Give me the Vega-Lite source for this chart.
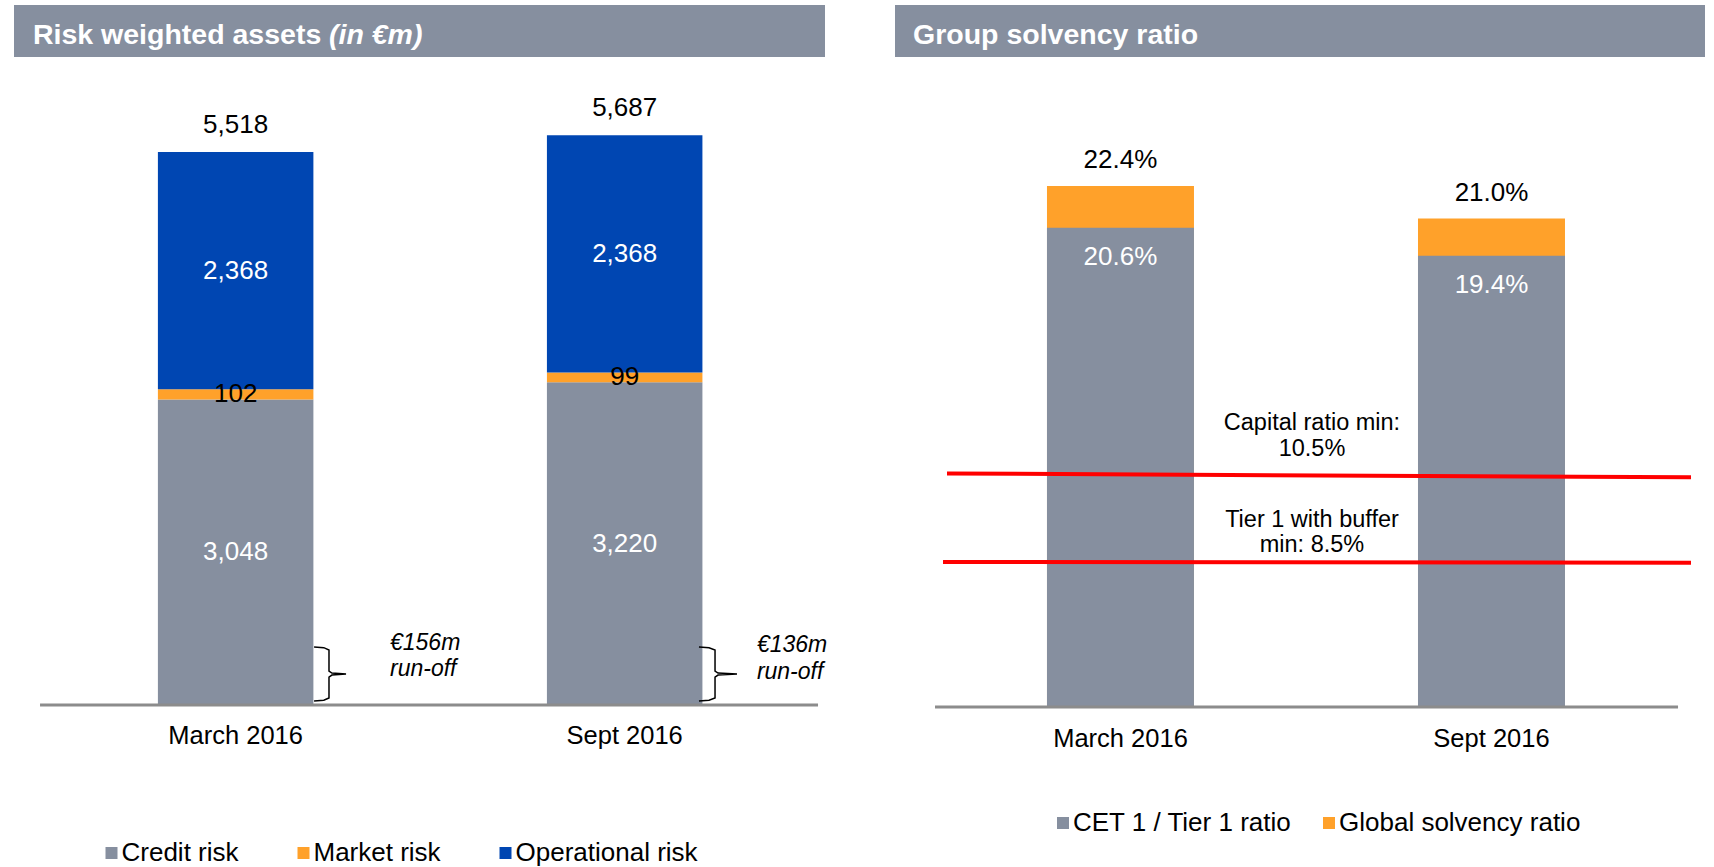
{
  "$schema": "https://vega.github.io/schema/vega-lite/v6.json",
  "padding": {"left": 14, "top": 5, "right": 0, "bottom": 0},
  "autosize": {"type": "pad"},
  "spacing": 70,
  "bounds": "flush",
  "config": {"view": {"stroke": null}, "font": "Liberation Sans", "text": {"font": "Liberation Sans"}},
  "datasets": {
    "rwa": [
      {"period": "March 2016", "risk": "Credit risk", "value": 3048, "order": 1},
      {"period": "March 2016", "risk": "Market risk", "value": 102, "order": 2},
      {"period": "March 2016", "risk": "Operational risk", "value": 2368, "order": 3},
      {"period": "Sept 2016", "risk": "Credit risk", "value": 3220, "order": 1},
      {"period": "Sept 2016", "risk": "Market risk", "value": 99, "order": 2},
      {"period": "Sept 2016", "risk": "Operational risk", "value": 2368, "order": 3}
    ],
    "solv": [
      {"period": "March 2016", "measure": "Global solvency ratio", "ratio": 0.224},
      {"period": "Sept 2016", "measure": "Global solvency ratio", "ratio": 0.210},
      {"period": "March 2016", "measure": "CET 1 / Tier 1 ratio", "ratio": 0.206},
      {"period": "Sept 2016", "measure": "CET 1 / Tier 1 ratio", "ratio": 0.194}
    ]
  },
  "hconcat": [
    {
      "width": 811,
      "height": 700,
      "layer": [
        {
          "data": {"name": "rwa"},
          "encoding": {
            "x": {
              "field": "period", "type": "nominal", "sort": ["March 2016", "Sept 2016"],
              "scale": {"paddingInner": 0.6003, "paddingOuter": 0.3425, "align": 0.54},
              "axis": {"title": null, "domain": false, "ticks": false, "tickSize": 0, "labelFontSize": 25.5, "labelFont": "Liberation Sans", "labelColor": "#000000", "labelPadding": 18.5, "labelAngle": 0}
            }
          },
          "layer": [
            {
              "mark": {"type": "bar"},
              "encoding": {
                "y": {"field": "value", "type": "quantitative", "stack": "zero", "scale": {"domain": [0, 6986], "nice": false}, "axis": null},
                "order": {"field": "order", "type": "quantitative"},
                "color": {
                  "field": "risk", "type": "nominal",
                  "scale": {"domain": ["Credit risk", "Market risk", "Operational risk"], "range": ["#868f9f", "#ffa12a", "#0046b2"]},
                  "legend": {"orient": "none", "legendX": 84.5, "legendY": 835, "direction": "horizontal", "title": null, "symbolType": "square", "symbolSize": 144, "symbolStrokeWidth": 0, "symbolOpacity": 1, "labelFontSize": 26, "labelFont": "Liberation Sans", "labelColor": "#000000", "columnPadding": 51, "labelOffset": -3, "padding": 0, "labelLimit": 400}
                }
              }
            },
            {
              "mark": {"type": "text", "fontSize": 26, "baseline": "middle", "align": "center"},
              "encoding": {
                "y": {"field": "value", "type": "quantitative", "stack": "zero", "bandPosition": 0.5, "scale": {"domain": [0, 6986], "nice": false}, "axis": null},
                "order": {"field": "order", "type": "quantitative"},
                "text": {"field": "value", "type": "quantitative", "format": ","},
                "color": {"condition": {"test": "datum.risk === 'Market risk'", "value": "#000000"}, "value": "#ffffff"}
              }
            },
            {
              "transform": [{"aggregate": [{"op": "sum", "field": "value", "as": "total"}], "groupby": ["period"]}],
              "mark": {"type": "text", "fontSize": 26, "baseline": "alphabetic", "align": "center", "dy": -19, "color": "#000000"},
              "encoding": {
                "y": {"field": "total", "type": "quantitative", "scale": {"domain": [0, 6986], "nice": false}, "axis": null},
                "text": {"field": "total", "type": "quantitative", "format": ","}
              }
            }
          ]
        },
        {
          "layer": [
            {
              "data": {"values": [{"u1": 0, "u2": 100, "v1": 6467, "v2": 6986}]},
              "mark": {"type": "rect", "color": "#868f9f"},
              "encoding": {
                "x": {"field": "u1", "type": "quantitative", "scale": {"domain": [0, 100], "nice": false, "zero": false}, "axis": null},
                "x2": {"field": "u2"},
                "y": {"field": "v1", "type": "quantitative", "scale": {"domain": [0, 6986], "nice": false}, "axis": null},
                "y2": {"field": "v2"}
              }
            },
            {
              "data": {"values": [{"u": 2.34, "v": 6597, "label": "Risk weighted assets"}]},
              "mark": {"type": "text", "fontSize": 28.5, "fontWeight": "bold", "color": "#ffffff", "align": "left", "baseline": "alphabetic"},
              "encoding": {
                "x": {"field": "u", "type": "quantitative", "scale": {"domain": [0, 100], "nice": false, "zero": false}, "axis": null},
                "y": {"field": "v", "type": "quantitative", "scale": {"domain": [0, 6986], "nice": false}, "axis": null},
                "text": {"field": "label"}
              }
            },
            {
              "data": {"values": [{"u": 38.84, "v": 6597, "label": "(in €m)"}]},
              "mark": {"type": "text", "fontSize": 28.5, "fontWeight": "bold", "fontStyle": "italic", "color": "#ffffff", "align": "left", "baseline": "alphabetic"},
              "encoding": {
                "x": {"field": "u", "type": "quantitative", "scale": {"domain": [0, 100], "nice": false, "zero": false}, "axis": null},
                "y": {"field": "v", "type": "quantitative", "scale": {"domain": [0, 6986], "nice": false}, "axis": null},
                "text": {"field": "label"}
              }
            },
            {
              "data": {"values": [{"u1": 3.21, "u2": 99.14, "v": 0}]},
              "mark": {"type": "rule", "color": "#8c8c8c", "strokeWidth": 3},
              "encoding": {
                "x": {"field": "u1", "type": "quantitative", "scale": {"domain": [0, 100], "nice": false, "zero": false}, "axis": null},
                "x2": {"field": "u2"},
                "y": {"field": "v", "type": "quantitative", "scale": {"domain": [0, 6986], "nice": false}, "axis": null}
              }
            },
            {
              "data": {"values": [
                {"brace": "a", "i": 1, "u": 37.0, "v": 579}, {"brace": "a", "i": 2, "u": 38.2, "v": 572}, {"brace": "a", "i": 3, "u": 38.84, "v": 549},
                {"brace": "a", "i": 4, "u": 38.84, "v": 339}, {"brace": "a", "i": 5, "u": 39.2, "v": 319}, {"brace": "a", "i": 6, "u": 40.94, "v": 309},
                {"brace": "a", "i": 7, "u": 39.2, "v": 299}, {"brace": "a", "i": 8, "u": 38.84, "v": 279}, {"brace": "a", "i": 9, "u": 38.84, "v": 70},
                {"brace": "a", "i": 10, "u": 38.2, "v": 47}, {"brace": "a", "i": 11, "u": 37.0, "v": 40},
                {"brace": "b", "i": 1, "u": 84.46, "v": 579}, {"brace": "b", "i": 2, "u": 85.7, "v": 572}, {"brace": "b", "i": 3, "u": 86.44, "v": 549},
                {"brace": "b", "i": 4, "u": 86.44, "v": 339}, {"brace": "b", "i": 5, "u": 86.81, "v": 319}, {"brace": "b", "i": 6, "u": 89.15, "v": 309},
                {"brace": "b", "i": 7, "u": 86.81, "v": 299}, {"brace": "b", "i": 8, "u": 86.44, "v": 279}, {"brace": "b", "i": 9, "u": 86.44, "v": 70},
                {"brace": "b", "i": 10, "u": 85.7, "v": 47}, {"brace": "b", "i": 11, "u": 84.46, "v": 40}
              ]},
              "mark": {"type": "line", "color": "#000000", "strokeWidth": 1.5},
              "encoding": {
                "x": {"field": "u", "type": "quantitative", "scale": {"domain": [0, 100], "nice": false, "zero": false}, "axis": null},
                "y": {"field": "v", "type": "quantitative", "scale": {"domain": [0, 6986], "nice": false}, "axis": null},
                "detail": {"field": "brace"},
                "order": {"field": "i", "type": "quantitative"}
              }
            },
            {
              "data": {"values": [
                {"u": 46.36, "v": 619, "label": "€156m"}, {"u": 46.36, "v": 359, "label": "run-off"},
                {"u": 91.6, "v": 599, "label": "€136m"}, {"u": 91.6, "v": 329, "label": "run-off"}
              ]},
              "mark": {"type": "text", "fontSize": 23, "fontStyle": "italic", "color": "#000000", "align": "left", "baseline": "middle"},
              "encoding": {
                "x": {"field": "u", "type": "quantitative", "scale": {"domain": [0, 100], "nice": false, "zero": false}, "axis": null},
                "y": {"field": "v", "type": "quantitative", "scale": {"domain": [0, 6986], "nice": false}, "axis": null},
                "text": {"field": "label"}
              }
            }
          ]
        }
      ],
      "resolve": {"scale": {"x": "independent"}}
    },
    {
      "width": 810,
      "height": 702,
      "layer": [
        {
          "data": {"name": "solv"},
          "encoding": {
            "x": {
              "field": "period", "type": "nominal", "sort": ["March 2016", "Sept 2016"],
              "scale": {"paddingInner": 0.6038, "paddingOuter": 0.3935, "align": 0.5205},
              "axis": {"title": null, "domain": false, "ticks": false, "tickSize": 0, "labelFontSize": 25.5, "labelFont": "Liberation Sans", "labelColor": "#000000", "labelPadding": 19, "labelAngle": 0}
            }
          },
          "layer": [
            {
              "mark": {"type": "bar"},
              "encoding": {
                "y": {"field": "ratio", "type": "quantitative", "stack": null, "scale": {"domain": [0, 0.30181], "nice": false}, "axis": null},
                "color": {
                  "field": "measure", "type": "nominal",
                  "scale": {"domain": ["CET 1 / Tier 1 ratio", "Global solvency ratio"], "range": ["#868f9f", "#ffa12a"]},
                  "legend": {"orient": "none", "legendX": 155, "legendY": 805, "direction": "horizontal", "title": null, "symbolType": "square", "symbolSize": 144, "symbolStrokeWidth": 0, "symbolOpacity": 1, "labelFontSize": 26, "labelFont": "Liberation Sans", "labelColor": "#000000", "columnPadding": 24, "labelOffset": -3, "padding": 0, "labelLimit": 400}
                }
              }
            },
            {
              "transform": [{"filter": "datum.measure === 'Global solvency ratio'"}],
              "mark": {"type": "text", "fontSize": 26, "baseline": "alphabetic", "align": "center", "dy": -18, "color": "#000000"},
              "encoding": {
                "y": {"field": "ratio", "type": "quantitative", "scale": {"domain": [0, 0.30181], "nice": false}, "axis": null},
                "text": {"field": "ratio", "type": "quantitative", "format": ".1%"}
              }
            },
            {
              "transform": [{"filter": "datum.measure === 'CET 1 / Tier 1 ratio'"}],
              "mark": {"type": "text", "fontSize": 26, "baseline": "middle", "align": "center", "dy": 29, "color": "#ffffff"},
              "encoding": {
                "y": {"field": "ratio", "type": "quantitative", "scale": {"domain": [0, 0.30181], "nice": false}, "axis": null},
                "text": {"field": "ratio", "type": "quantitative", "format": ".1%"}
              }
            }
          ]
        },
        {
          "layer": [
            {
              "data": {"values": [{"u1": 0, "u2": 100, "v1": 0.27945, "v2": 0.30181}]},
              "mark": {"type": "rect", "color": "#868f9f"},
              "encoding": {
                "x": {"field": "u1", "type": "quantitative", "scale": {"domain": [0, 100], "nice": false, "zero": false}, "axis": null},
                "x2": {"field": "u2"},
                "y": {"field": "v1", "type": "quantitative", "scale": {"domain": [0, 0.30181], "nice": false}, "axis": null},
                "y2": {"field": "v2"}
              }
            },
            {
              "data": {"values": [{"u": 2.22, "v": 0.28504, "label": "Group solvency ratio"}]},
              "mark": {"type": "text", "fontSize": 28.5, "fontWeight": "bold", "color": "#ffffff", "align": "left", "baseline": "alphabetic"},
              "encoding": {
                "x": {"field": "u", "type": "quantitative", "scale": {"domain": [0, 100], "nice": false, "zero": false}, "axis": null},
                "y": {"field": "v", "type": "quantitative", "scale": {"domain": [0, 0.30181], "nice": false}, "axis": null},
                "text": {"field": "label"}
              }
            },
            {
              "data": {"values": [{"u1": 4.94, "u2": 96.67, "v": 0}]},
              "mark": {"type": "rule", "color": "#8c8c8c", "strokeWidth": 3},
              "encoding": {
                "x": {"field": "u1", "type": "quantitative", "scale": {"domain": [0, 100], "nice": false, "zero": false}, "axis": null},
                "x2": {"field": "u2"},
                "y": {"field": "v", "type": "quantitative", "scale": {"domain": [0, 0.30181], "nice": false}, "axis": null}
              }
            },
            {
              "data": {"values": [
                {"name": "Capital ratio min", "u1": 6.42, "u2": 98.27, "v1": 0.10039, "v2": 0.09875},
                {"name": "Tier 1 with buffer min", "u1": 5.93, "u2": 98.27, "v1": 0.06234, "v2": 0.06204}
              ]},
              "mark": {"type": "rule", "color": "#ff0000", "strokeWidth": 4},
              "encoding": {
                "x": {"field": "u1", "type": "quantitative", "scale": {"domain": [0, 100], "nice": false, "zero": false}, "axis": null},
                "x2": {"field": "u2"},
                "y": {"field": "v1", "type": "quantitative", "scale": {"domain": [0, 0.30181], "nice": false}, "axis": null},
                "y2": {"field": "v2"}
              }
            },
            {
              "data": {"values": [
                {"u": 51.48, "v": 0.12201, "label": "Capital ratio min:"},
                {"u": 51.48, "v": 0.11083, "label": "10.5%"},
                {"u": 51.48, "v": 0.08031, "label": "Tier 1 with buffer"},
                {"u": 51.48, "v": 0.06956, "label": "min: 8.5%"}
              ]},
              "mark": {"type": "text", "fontSize": 23.5, "color": "#000000", "align": "center", "baseline": "middle"},
              "encoding": {
                "x": {"field": "u", "type": "quantitative", "scale": {"domain": [0, 100], "nice": false, "zero": false}, "axis": null},
                "y": {"field": "v", "type": "quantitative", "scale": {"domain": [0, 0.30181], "nice": false}, "axis": null},
                "text": {"field": "label"}
              }
            }
          ]
        }
      ],
      "resolve": {"scale": {"x": "independent"}}
    }
  ],
  "resolve": {"scale": {"color": "independent", "x": "independent", "y": "independent"}, "legend": {"color": "independent"}}
}
